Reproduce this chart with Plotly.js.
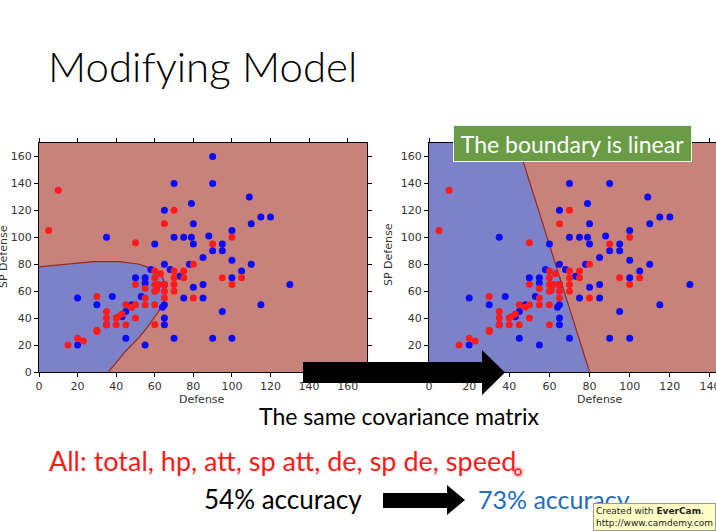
<!DOCTYPE html>
<html>
<head>
<meta charset="utf-8">
<script src="https://cdn.plot.ly/plotly-3.0.1.min.js"></script>
<style>
  body { margin: 0; background: #fff; }
  #slide { width: 716px; height: 531px; }
</style>
</head>
<body>
<div id="slide"></div>
<script>
// pokemon points: Defense vs SP Defense
var blueDef   = [90, 70, 90, 109, 79, 65, 80, 110, 115, 120, 35, 70, 75, 79, 88, 100, 60, 80, 95, 90,
                 95, 85, 100, 65, 78, 110, 105, 58, 68, 73, 50, 55, 55, 65, 80, 85, 100, 130, 20, 30,
                 38, 53, 75, 85, 65, 64, 48, 45, 43, 65, 35, 65, 95, 115, 45, 70, 90, 100, 20, 55];
var blueSpDef = [160, 140, 140, 130, 125, 120, 110, 110, 115, 115, 100, 100, 100, 100, 101, 105, 95, 95, 95, 90,
                 90, 85, 83, 80, 80, 80, 75, 76, 76, 71, 70, 70, 66, 65, 63, 65, 70, 65, 55, 50,
                 56, 56, 55, 55, 50, 48, 50, 45, 41, 40, 35, 35, 45, 50, 25, 25, 25, 25, 20, 20];

var redDef   = [10, 5, 65, 70, 50, 90, 100, 80, 75, 75, 70, 70, 70, 70, 60, 60, 63, 60, 62, 65,
                60, 61, 65, 65, 55, 55, 50, 95, 100, 105, 80, 30, 55, 60, 50, 48, 45, 45, 40, 35,
                35, 35, 40, 41, 43, 50, 30, 30, 60, 20, 23, 15];
var redSpDef = [135, 105, 110, 120, 96, 95, 100, 80, 75, 70, 75, 70, 65, 60, 75, 70, 73, 65, 65, 65,
                60, 61, 60, 55, 62, 55, 65, 70, 65, 70, 55, 56, 50, 50, 50, 48, 50, 35, 35, 45,
                40, 35, 40, 41, 43, 40, 31, 30, 35, 25, 23, 20];

// class boundaries
var quadBoundX = [0, 10, 20, 28, 42, 48, 52, 56, 59, 62, 64, 65.5, 66, 65.5, 64, 62, 59.5, 56, 52, 48, 44, 40, 36];
var quadBoundY = [78, 79.5, 81, 82, 82, 81, 80, 78, 76, 73, 70, 65, 60, 55, 50, 45, 40, 33, 26, 20, 14, 7, 0];
var linBoundX = [80, 44];
var linBoundY = [0, 170];

var tickVals = [0, 20, 40, 60, 80, 100, 120, 140, 160];

var W = 716, H = 531;
function px(x) { return x / W; }
function py(y) { return 1 - y / H; }

var redBg = '#c7827b';
var blueBg = '#7d82c8';
var ptRed = '#ff1c1c';
var ptBlue = '#0a0aff';

function region(xs, ys, cornersX, cornersY, xa, ya) {
    return {
        x: xs.concat(cornersX), y: ys.concat(cornersY),
        xaxis: xa, yaxis: ya, type: 'scatter', mode: 'lines',
        fill: 'toself', fillcolor: blueBg, line: { width: 0 },
        hoverinfo: 'skip'
    };
}
function boundary(xs, ys, xa, ya) {
    return {
        x: xs, y: ys, xaxis: xa, yaxis: ya, type: 'scatter', mode: 'lines',
        line: { color: '#9a2a1e', width: 1.2 }, hoverinfo: 'skip'
    };
}
function points(xs, ys, color, xa, ya) {
    return {
        x: xs, y: ys, xaxis: xa, yaxis: ya, type: 'scatter', mode: 'markers',
        marker: { color: color, size: 7, line: { width: 0 } }
    };
}

var data = [
    region(quadBoundX, quadBoundY, [0], [0], 'x', 'y'),
    boundary(quadBoundX, quadBoundY, 'x', 'y'),
    points(blueDef, blueSpDef, ptBlue, 'x', 'y'),
    points(redDef, redSpDef, ptRed, 'x', 'y'),
    region(linBoundX, linBoundY, [0, 0], [170, 0], 'x2', 'y2'),
    boundary(linBoundX, linBoundY, 'x2', 'y2'),
    points(blueDef, blueSpDef, ptBlue, 'x2', 'y2'),
    points(redDef, redSpDef, ptRed, 'x2', 'y2')
];

var tickFont = { family: 'DejaVu Sans', size: 11, color: '#333' };
function axis(domain, range, anchor) {
    return {
        domain: domain, range: range, anchor: anchor,
        tickmode: 'array', tickvals: tickVals,
        ticks: 'outside', ticklen: 4, tickcolor: '#000',
        showline: true, linecolor: '#000', linewidth: 1, mirror: 'ticks',
        showgrid: false, zeroline: false, tickfont: tickFont, fixedrange: true,
        ticklabeloverflow: 'allow'
    };
}

var yDom = [py(372), py(143)];

var slideFont = 'Lato, "Open Sans", sans-serif';
function note(text, x, y, size, color, extra) {
    var a = {
        text: text, xref: 'paper', yref: 'paper', x: px(x), y: py(y),
        xanchor: 'left', yanchor: 'middle', showarrow: false,
        font: { family: slideFont, size: size, color: color }
    };
    for (var k in extra) a[k] = extra[k];
    return a;
}

function arrowPath(x0, x1, hx, tip, yTop, yBot, hTop, hBot) {
    var yc = (hTop + hBot) / 2;
    return 'M' + px(x0) + ',' + py(yTop) + ' L' + px(hx) + ',' + py(yTop) +
        ' L' + px(hx) + ',' + py(hTop) + ' L' + px(tip) + ',' + py(yc) +
        ' L' + px(hx) + ',' + py(hBot) + ' L' + px(hx) + ',' + py(yBot) +
        ' L' + px(x0) + ',' + py(yBot) + ' Z';
}

var axisTitle = { family: 'DejaVu Sans', size: 11, color: '#333' };

var layout = {
    width: W, height: H, autosize: false,
    margin: { l: 0, r: 0, t: 0, b: 0 },
    paper_bgcolor: '#fff', plot_bgcolor: redBg,
    showlegend: false,
    xaxis: axis([px(39), px(367)], [0, 170], 'y'),
    yaxis: axis(yDom, [0, 170], 'x'),
    xaxis2: axis([px(429), 1], [0, 143], 'y2'),
    yaxis2: axis(yDom, [0, 170], 'x2'),
    shapes: [
        { type: 'path', xref: 'paper', yref: 'paper', layer: 'above',
          path: arrowPath(303, 482, 482, 505, 362, 383, 350, 395),
          fillcolor: '#000', line: { width: 0 } },
        { type: 'path', xref: 'paper', yref: 'paper', layer: 'above',
          path: arrowPath(383, 447, 447, 465, 493, 508, 485, 515),
          fillcolor: '#000', line: { width: 0 } },
        // laser pointer dot
        { type: 'circle', xref: 'paper', yref: 'paper', layer: 'above',
          x0: px(512), x1: px(524), y0: py(478), y1: py(466),
          fillcolor: 'rgba(255,80,80,0.25)', line: { width: 0 } },
        { type: 'circle', xref: 'paper', yref: 'paper', layer: 'above',
          x0: px(515), x1: px(521), y0: py(475), y1: py(469),
          fillcolor: 'rgba(255,200,200,0.8)', line: { color: '#ff2020', width: 1.5 } }
    ],
    annotations: [
        note('Modifying Model', 46, 66, 42, '#000', { font: { family: slideFont, size: 42, color: '#000', weight: 300 } }),
        note('Defense', 202, 399, 11, '#333', { xanchor: 'center', font: axisTitle }),
        note('Defense', 600, 399, 11, '#333', { xanchor: 'center', font: axisTitle }),
        note('SP Defense', 4, 257, 11, '#333', { xanchor: 'center', textangle: -90, font: axisTitle }),
        note('SP Defense', 388, 255, 11, '#333', { xanchor: 'center', textangle: -90, font: axisTitle }),
        note('The boundary is linear', 572.5, 143.5, 23, '#fff', {
            xanchor: 'center', bgcolor: '#6a9b45', bordercolor: '#f4f4f4', borderwidth: 1,
            borderpad: 0, width: 237, height: 35 }),
        note('The same covariance matrix', 257, 416, 23, '#000'),
        note('All: total, hp, att, sp att, de, sp de, speed', 47, 460, 27, '#ff1a1a'),
        note('54% accuracy', 202, 499, 26, '#000'),
        note('73% accuracy', 476, 499, 25, '#1f6dc0'),
        note('Created with <b>EverCam</b>.<br>http://www.camdemy.com', 716, 531, 9, '#222', {
            xanchor: 'right', yanchor: 'bottom', align: 'left',
            bgcolor: '#ffffc6', bordercolor: '#9a9a8a', borderwidth: 1, borderpad: 2,
            font: { family: 'DejaVu Sans', size: 9, color: '#222' } })
    ]
};

Plotly.newPlot('slide', data, layout, { displayModeBar: false, staticPlot: true });
</script>
</body>
</html>
